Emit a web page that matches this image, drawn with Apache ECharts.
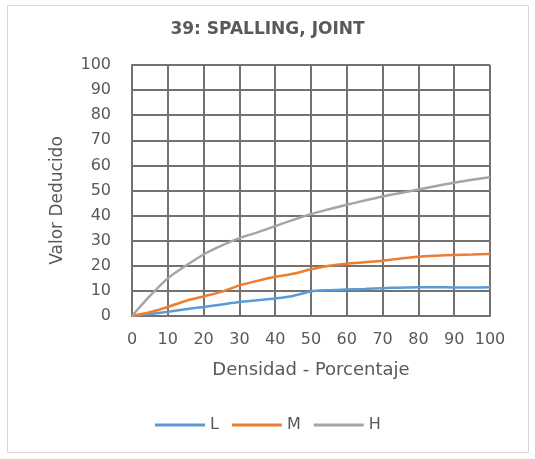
<!DOCTYPE html>
<html>
<head>
<meta charset="utf-8">
<script src="https://cdn.jsdelivr.net/npm/echarts@6/dist/echarts.min.js"></script>
<style>html,body{margin:0;padding:0;background:#fff;}#c{width:535px;height:459px;}</style>
</head>
<body>
<div id="c"></div>
<script>
const densidad = [0, 5, 10, 15, 20, 25, 30, 35, 40, 45, 50, 55, 60, 65, 70, 75, 80, 85, 90, 95, 100];
const L = [0, 0.8, 1.7, 2.7, 3.6, 4.6, 5.6, 6.3, 7.0, 8.0, 9.8, 10.3, 10.6, 10.8, 11.1, 11.3, 11.5, 11.5, 11.4, 11.4, 11.5];
const M = [0, 1.5, 3.6, 6.0, 7.8, 9.6, 12.2, 14.0, 15.6, 16.8, 18.6, 20.0, 20.8, 21.4, 22.0, 22.9, 23.6, 24.0, 24.3, 24.5, 24.7];
const H = [0, 8.0, 15.0, 20.0, 24.5, 28.0, 31.0, 33.3, 35.8, 38.3, 40.6, 42.5, 44.3, 46.0, 47.6, 49.0, 50.4, 51.8, 53.1, 54.3, 55.3];
const seriesNames = ['L', 'M', 'H'];
const title = '39: SPALLING, JOINT';
const xName = 'Densidad - Porcentaje';
const yName = 'Valor Deducido';

const font = 'DejaVu Sans';
const txt = '#595959';
const gridC = '#767171';
const colors = ['#5b9bd5', '#ed7d31', '#a5a5a5'];
const pair = (ys) => densidad.map((x, i) => [x, ys[i]]);

const chart = echarts.init(document.getElementById('c'), null, {renderer: 'canvas'});
chart.setOption({
  animation: false,
  backgroundColor: '#fff',
  color: colors,
  graphic: [{
    type: 'rect', shape: {x: 7.5, y: 5.5, width: 521, height: 447},
    style: {fill: 'none', stroke: '#d9d9d9', lineWidth: 1}, silent: true
  }],
  title: {
    text: title, left: 'center', top: 16,
    textStyle: {fontFamily: font, fontSize: 17, fontWeight: 'bold', color: txt}
  },
  grid: {left: 132, right: 45, top: 65, bottom: 143, containLabel: false},
  legend: {
    data: seriesNames, left: 150, top: 412, itemWidth: 50, itemHeight: 3, itemGap: 13,
    icon: 'rect',
    textStyle: {fontFamily: font, fontSize: 16, color: txt}
  },
  xAxis: {
    type: 'value', min: 0, max: 100, interval: 10,
    name: xName, nameLocation: 'middle', nameGap: 45,
    nameTextStyle: {fontFamily: font, fontSize: 18, color: txt},
    axisLine: {show: true, lineStyle: {color: gridC, width: 2}},
    axisTick: {show: false},
    axisLabel: {margin: 16, fontFamily: font, fontSize: 16, color: txt},
    splitLine: {show: true, lineStyle: {color: gridC, width: 2}}
  },
  yAxis: {
    type: 'value', min: 0, max: 100, interval: 10,
    name: yName, nameLocation: 'middle', nameGap: 66,
    nameTextStyle: {fontFamily: font, fontSize: 17, color: txt, padding: [0, 20, 0, 0]},
    axisLine: {show: true, lineStyle: {color: gridC, width: 2}},
    axisTick: {show: false},
    axisLabel: {margin: 21, fontFamily: font, fontSize: 16, color: txt},
    splitLine: {show: true, lineStyle: {color: gridC, width: 2}}
  },
  series: [L, M, H].map((d, i) => ({
    name: seriesNames[i], type: 'line', data: pair(d), smooth: 0.3,
    symbol: 'none', lineStyle: {width: 2.5, color: colors[i]}, itemStyle: {color: colors[i]}
  }))
});
</script>
</body>
</html>
